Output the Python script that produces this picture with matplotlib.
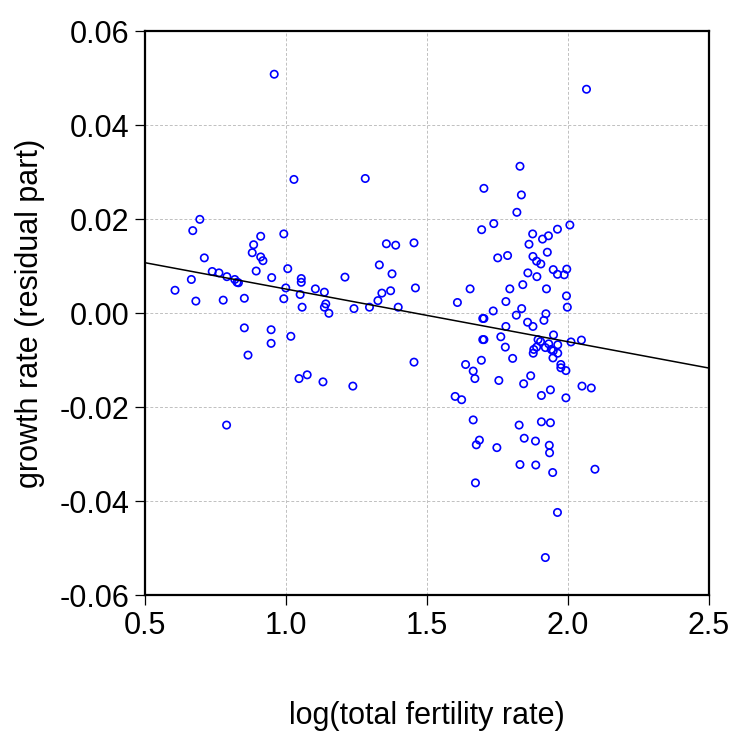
import matplotlib.pyplot as plt
import numpy as np

plt.rcParams['font.family'] = ['Liberation Sans', 'DejaVu Sans']

# log(total fertility rate)
tfr = [
    0.958, 1.028, 1.281, 0.694, 0.669, 0.910, 0.992, 0.885, 0.880, 0.910,
    0.918, 0.710, 0.894, 1.006, 1.356, 1.389, 1.454, 1.331, 1.376, 0.738,
    0.762, 0.790, 0.818, 0.826, 0.831, 0.664, 0.606, 0.949, 1.054, 1.054,
    1.209, 0.999, 1.104, 1.136, 1.050, 1.340, 1.371, 1.459, 1.326, 0.680,
    0.777, 0.852, 0.992, 1.057, 1.141, 1.136, 1.152, 1.241, 1.296, 1.398,
    0.852, 0.947, 1.017, 0.947, 0.865, 1.454, 1.046, 1.075, 1.131, 1.237,
    0.789,
    2.066, 1.830, 1.702, 1.835, 1.819, 1.737, 1.694, 2.007, 1.963, 1.875,
    1.931, 1.910, 1.862, 1.927, 1.786, 1.751, 1.876, 1.889, 1.904, 1.948,
    1.996, 1.963, 1.987, 1.858, 1.890, 1.840, 1.653, 1.794, 1.924, 1.995,
    1.608, 1.780, 1.998, 1.735, 1.836, 1.922, 1.817, 1.698, 1.702, 1.857,
    1.915, 1.876, 1.780, 1.949, 1.762, 1.698, 1.702, 1.894, 1.903, 1.932,
    1.964, 2.011, 2.048, 1.778, 1.889, 1.920, 1.879, 1.941, 1.948, 1.877,
    1.964, 1.947, 1.804, 1.693, 1.637, 1.975, 1.975, 1.993, 1.664, 1.670,
    1.755, 1.868, 1.843, 2.050, 2.083, 1.938, 1.906, 1.993, 1.600, 1.623,
    1.664, 1.827, 1.906, 1.938, 1.686, 1.675, 1.748, 1.845, 1.885, 1.934,
    1.935, 1.830, 1.886, 1.946, 2.096, 1.672, 1.963, 1.920,
]

# growth rate (residual part)
growth = [
    0.0509, 0.0285, 0.0287, 0.0200, 0.0176, 0.0164, 0.0169, 0.0146, 0.0129, 0.0120,
    0.0112, 0.0118, 0.0090, 0.0095, 0.0148, 0.0145, 0.0150, 0.0103, 0.0084, 0.0089,
    0.0086, 0.0078, 0.0072, 0.0066, 0.0065, 0.0072, 0.0049, 0.0076, 0.0074, 0.0066,
    0.0077, 0.0054, 0.0052, 0.0045, 0.0040, 0.0043, 0.0048, 0.0054, 0.0027, 0.0026,
    0.0028, 0.0032, 0.0031, 0.0013, 0.0020, 0.0013, 0.0000, 0.0010, 0.0013, 0.0013,
    -0.0031, -0.0035, -0.0049, -0.0064, -0.0089, -0.0104, -0.0139, -0.0131, -0.0146, -0.0155,
    -0.0238,
    0.0477, 0.0313, 0.0266, 0.0252, 0.0215, 0.0191, 0.0178, 0.0188, 0.0179, 0.0169,
    0.0165, 0.0158, 0.0147, 0.0130, 0.0123, 0.0118, 0.0121, 0.0111, 0.0105, 0.0093,
    0.0094, 0.0083, 0.0082, 0.0086, 0.0078, 0.0061, 0.0052, 0.0052, 0.0052, 0.0037,
    0.0023, 0.0025, 0.0013, 0.0005, 0.0010, -0.0001, -0.0004, -0.0011, -0.0011, -0.0019,
    -0.0015, -0.0028, -0.0028, -0.0046, -0.0050, -0.0056, -0.0056, -0.0056, -0.0060, -0.0065,
    -0.0067, -0.0061, -0.0057, -0.0072, -0.0072, -0.0073, -0.0077, -0.0077, -0.0080, -0.0085,
    -0.0085, -0.0095, -0.0096, -0.0100, -0.0109, -0.0109, -0.0116, -0.0122, -0.0123, -0.0139,
    -0.0143, -0.0133, -0.0150, -0.0155, -0.0159, -0.0163, -0.0175, -0.0180, -0.0177, -0.0184,
    -0.0227, -0.0238, -0.0231, -0.0233, -0.0270, -0.0280, -0.0286, -0.0266, -0.0272, -0.0281,
    -0.0297, -0.0322, -0.0323, -0.0339, -0.0332, -0.0361, -0.0424, -0.0520,
]

# fitted line
fit_intercept = 0.01637
fit_slope = -0.01121

x_ticks = [0.5, 1.0, 1.5, 2.0, 2.5]
y_ticks = [-0.06, -0.04, -0.02, 0.00, 0.02, 0.04, 0.06]

fig = plt.figure(figsize=(7.33, 7.32), dpi=100)
ax = fig.add_axes([0.198, 0.187, 0.769, 0.770])

ax.scatter(tfr, growth, s=28, facecolors='none', edgecolors='#0000ff',
           linewidths=1.2, zorder=3)

xl = np.array([0.5, 2.5])
ax.plot(xl, fit_intercept + fit_slope * xl, color='black', lw=1.1, zorder=4)

ax.set_xlim(0.5, 2.5)
ax.set_ylim(-0.06, 0.06)
ax.set_xticks(x_ticks)
ax.set_xticklabels(['%.1f' % v for v in x_ticks])
ax.set_yticks(y_ticks)
ax.set_yticklabels(['%.2f' % v for v in y_ticks])

ax.grid(True, color='#c0c0c0', linestyle=(0, (3, 2)), linewidth=0.7)
ax.set_axisbelow(True)

for s in ax.spines.values():
    s.set_linewidth(1.6)
ax.tick_params(axis='both', direction='out', length=7.5, width=0.9,
               labelsize=22, pad=4)

ax.set_xlabel('log(total fertility rate)', fontsize=22, labelpad=43)
ax.set_ylabel('growth rate (residual part)', fontsize=22, labelpad=10)

fig.savefig('out.png', dpi=100)
